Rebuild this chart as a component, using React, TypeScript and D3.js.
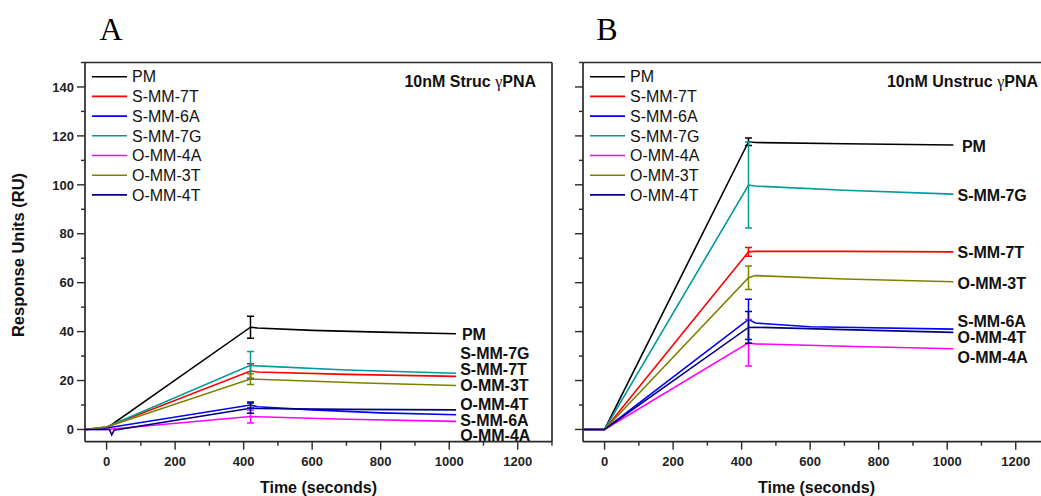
import React, { useEffect } from "react";
import * as d3 from "d3";

type Pt = [number, number];

const seriesNames = ["PM", "S-MM-7T", "S-MM-6A", "S-MM-7G", "O-MM-4A", "O-MM-3T", "O-MM-4T"];
const xTickValues = [0, 200, 400, 600, 800, 1000, 1200];
const yTickValues = [0, 20, 40, 60, 80, 100, 120, 140];

// Panel A: 10nM Struc γPNA  (time s, RU)
const pmA: Pt[] = [[-63, 0], [0, 0.5], [420, 41.8], [440, 41.5], [600, 40.5], [800, 39.8], [1020, 39.1]];
const s7tA: Pt[] = [[-63, 0], [0, 1], [420, 23.9], [440, 23.5], [700, 22.5], [1020, 21.7]];
const s6aA: Pt[] = [[-63, 0], [0, 0.6], [420, 10], [440, 9.3], [600, 8], [800, 6.8], [1020, 6]];
const s7gA: Pt[] = [[-63, 0], [0, 1], [420, 26.2], [440, 26], [700, 24.3], [1020, 23]];
const o4aA: Pt[] = [[-63, 0], [0, 0], [420, 5.3], [440, 5.2], [700, 4.2], [1020, 3.3]];
const o3tA: Pt[] = [[-63, 0], [0, 1], [420, 20.6], [440, 20.5], [750, 19], [1020, 18]];
const o4tA: Pt[] = [[-63, 0], [8, 0], [15, -2.2], [22, -0.3], [420, 8.7], [440, 8.6], [700, 8.2], [1020, 8]];
const errA = [4.5, 3, 1.2, 5.7, 2.7, 2.2, 2.1]; // ± at t = 420
const labelYA = [39.1, 24.7, 3.9, 31.3, -2.5, 18.1, 10.3];
const labelTA = [1037, 1032, 1032, 1032, 1032, 1032, 1032];

// Panel B: 10nM Unstruc γPNA
const pmB: Pt[] = [[-63, 0], [0, 0], [420, 117.6], [440, 117.3], [700, 116.8], [1018, 116.3]];
const s7tB: Pt[] = [[-63, 0], [0, 0], [420, 72.6], [440, 72.8], [700, 72.8], [1018, 72.6]];
const s6aB: Pt[] = [[-63, 0], [0, 0], [420, 45], [440, 43.5], [600, 42], [1018, 41]];
const s7gB: Pt[] = [[-63, 0], [0, 0], [420, 99.9], [440, 99.5], [700, 97.8], [1018, 96.2]];
const o4aB: Pt[] = [[-63, 0], [0, 0], [420, 35.4], [440, 35], [700, 34], [1018, 33]];
const o3tB: Pt[] = [[-63, 0], [0, 0], [420, 62], [440, 62.9], [700, 61.5], [1018, 60.4]];
const o4tB: Pt[] = [[-63, 0], [0, 0], [420, 41.7], [440, 41.8], [700, 40.8], [1018, 39.7]];
const errB = [1.5, 1.8, 8.2, 17.6, 9.5, 4.8, 6.5];
const labelYB = [115.6, 72.6, 44.2, 95.8, 29.4, 59.7, 37.5];
const labelTB = [1043, 1030, 1030, 1030, 1030, 1030, 1030];

const peakT = 420;
const colors = ["#000000", "#ff0000", "#0000ff", "#009a9a", "#ff00ff", "#808000", "#000080"];
const FONT = "'Liberation Sans', Arial, sans-serif";

interface PanelProps {
  id: string;
  left: number;
  right: number;
  series: Pt[][];
  errs: number[];
  labelY: number[];
  labelT: number[];
  title: string;
  letter: string;
  letterX: number;
  showYLabels: boolean;
  rightBorder: boolean;
  clipRight: number;
  titleRight: number;
}

const TOP = 62.5;
const BOTTOM = 441.7;

function Panel(p: PanelProps) {
  const x = d3.scaleLinear().domain([-63, 1300]).range([p.left, p.right]);
  const y = d3.scaleLinear().domain([-5, 150]).range([BOTTOM, TOP]);
  const line = d3.line<Pt>().x((d) => x(d[0])).y((d) => y(d[1]));
  const xMinor = d3.range(0, 1301, 100);
  const yMinor = d3.range(0, 151, 10);
  const axisColor = "#2a2a2a";
  const visRight = Math.min(p.right, p.clipRight);
  const legendX = p.left + 7;
  return (
    <g>
      <text x={p.letterX} y={40} fontFamily="'Liberation Serif', 'Times New Roman', serif" fontSize={32} textAnchor="middle">
        {p.letter}
      </text>
      <defs>
        <clipPath id={`clip-${p.id}`}>
          <rect x={p.left} y={TOP} width={p.right - p.left} height={BOTTOM - TOP} />
        </clipPath>
      </defs>
      {/* frame */}
      <line x1={p.left} x2={visRight} y1={TOP} y2={TOP} stroke={axisColor} strokeWidth={1.7} />
      <line x1={p.left} x2={visRight} y1={BOTTOM} y2={BOTTOM} stroke={axisColor} strokeWidth={1.7} />
      <line x1={p.left} x2={p.left} y1={TOP} y2={BOTTOM} stroke={axisColor} strokeWidth={1.7} />
      {p.rightBorder && <line x1={p.right} x2={p.right} y1={TOP} y2={BOTTOM} stroke={axisColor} strokeWidth={1.7} />}
      {/* x ticks */}
      {xMinor.map((t) => {
        const major = t % 200 === 0;
        return (
          <line key={`xt${t}`} x1={x(t)} x2={x(t)} y1={BOTTOM} y2={BOTTOM + (major ? 8 : 4)} stroke={axisColor} strokeWidth={1.4} />
        );
      })}
      {xTickValues.map((t) => (
        <text key={`xl${t}`} x={x(t)} y={466} textAnchor="middle" fontFamily={FONT} fontWeight="bold" fontSize={13} fill="#222">
          {t}
        </text>
      ))}
      {/* y ticks */}
      {yMinor.map((v) => {
        const major = v % 20 === 0;
        return (
          <line key={`yt${v}`} x1={p.left} x2={p.left - (major ? 8 : 4)} y1={y(v)} y2={y(v)} stroke={axisColor} strokeWidth={1.4} />
        );
      })}
      {p.showYLabels &&
        yTickValues.map((v) => (
          <text key={`yl${v}`} x={p.left - 11} y={y(v)} dy="0.36em" textAnchor="end" fontFamily={FONT} fontWeight="bold" fontSize={13} fill="#222">
            {v}
          </text>
        ))}
      <text
        x={(p.left + p.right) / 2}
        y={493}
        textAnchor="middle"
        fontFamily={FONT}
        fontWeight="bold"
        fontSize={16}
        fill="#111"
      >
        Time (seconds)
      </text>
      {/* series */}
      <g clipPath={`url(#clip-${p.id})`}>
        {p.series.map((s, i) => (
          <path key={`s${i}`} d={line(s) || ""} fill="none" stroke={colors[i]} strokeWidth={1.6} />
        ))}
        {p.series.map((s, i) => {
          const peak = s.find((d) => d[0] === peakT);
          if (!peak) return null;
          const cx = x(peakT);
          const hi = y(peak[1] + p.errs[i]);
          const lo = y(peak[1] - p.errs[i]);
          return (
            <g key={`e${i}`} stroke={colors[i]} strokeWidth={1.5}>
              <line x1={cx} x2={cx} y1={hi} y2={lo} />
              <line x1={cx - 3.5} x2={cx + 3.5} y1={hi} y2={hi} />
              <line x1={cx - 3.5} x2={cx + 3.5} y1={lo} y2={lo} />
            </g>
          );
        })}
      </g>
      {/* end labels */}
      {seriesNames.map((n, i) => (
        <text
          key={`lab${i}`}
          x={x(p.labelT[i])}
          y={y(p.labelY[i])}
          dy="0.36em"
          fontFamily={FONT}
          fontWeight="bold"
          fontSize={16}
          fill="#111"
        >
          {n}
        </text>
      ))}
      {/* legend */}
      {seriesNames.map((n, i) => {
        const ly = 76.7 + i * 19.7;
        return (
          <g key={`lg${i}`}>
            <line x1={legendX} x2={legendX + 35} y1={ly} y2={ly} stroke={colors[i]} strokeWidth={1.6} />
            <text x={legendX + 40} y={ly} dy="0.36em" fontFamily={FONT} fontSize={16} fill="#111">
              {n}
            </text>
          </g>
        );
      })}
      {/* title */}
      <text x={p.titleRight} y={87} textAnchor="end" fontFamily={FONT} fontWeight="bold" fontSize={16} fill="#111">
        {p.title}
        <tspan fontWeight="normal" fontFamily="'Liberation Serif', serif">γ</tspan>
        PNA
      </text>
    </g>
  );
}

export default function App() {
  useEffect(() => {
    document.body.style.margin = "0";
  }, []);
  return (
    <svg width={1041} height={496} style={{ display: "block", background: "#fff" }}>
      <rect x={0} y={0} width={1041} height={496} fill="#fff" />
      <text
        transform="translate(24,255) rotate(-90)"
        textAnchor="middle"
        fontFamily={FONT}
        fontWeight="bold"
        fontSize={16.5}
        fill="#111"
      >
        Response Units (RU)
      </text>
      <Panel
        id="A"
        left={85}
        right={552}
        series={[pmA, s7tA, s6aA, s7gA, o4aA, o3tA, o4tA]}
        errs={errA}
        labelY={labelYA}
        labelT={labelTA}
        title="10nM Struc "
        letter="A"
        letterX={111}
        showYLabels={true}
        rightBorder={true}
        clipRight={1041}
        titleRight={536}
      />
      <Panel
        id="B"
        left={583}
        right={1050}
        series={[pmB, s7tB, s6aB, s7gB, o4aB, o3tB, o4tB]}
        errs={errB}
        labelY={labelYB}
        labelT={labelTB}
        title="10nM Unstruc "
        letter="B"
        letterX={607}
        showYLabels={false}
        rightBorder={false}
        clipRight={1041}
        titleRight={1038}
      />
    </svg>
  );
}
